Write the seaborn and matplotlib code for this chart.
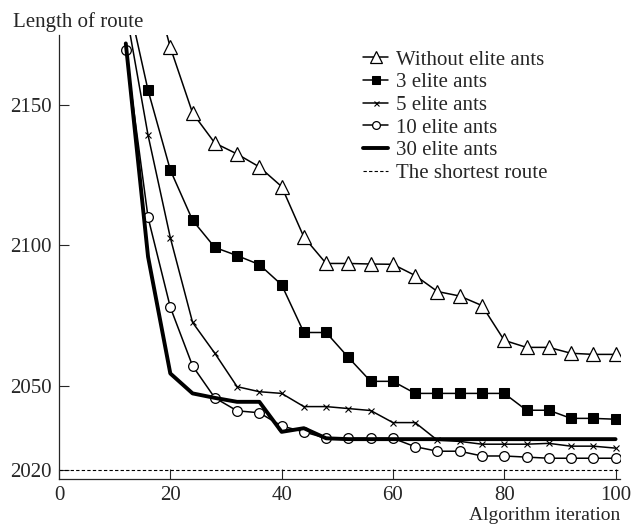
import matplotlib
matplotlib.use("Agg")
import matplotlib.pyplot as plt
import seaborn as sns

# --- Data (route length every 4 iterations) ---
iterations = [12, 16, 20, 24, 28, 32, 36, 40, 44, 48, 52, 56, 60,
              64, 68, 72, 76, 80, 84, 88, 92, 96, 100]

without_elite = [2230, 2200, 2170.6, 2147.2, 2136.5, 2132.6, 2128, 2121, 2103,
                 2093.6, 2093.6, 2093.4, 2093.3, 2089.3, 2083.6, 2082, 2078.6,
                 2066.2, 2063.7, 2063.7, 2061.6, 2061.2, 2061.2]
elite_3 = [2191, 2155.3, 2126.9, 2109, 2099.3, 2096.4, 2093.2, 2086, 2069,
           2069, 2060.1, 2051.6, 2051.6, 2047.3, 2047.3, 2047.3, 2047.3,
           2047.3, 2041.3, 2041.3, 2038.4, 2038.4, 2038.1]
elite_5 = [2184, 2139.3, 2102.8, 2072.6, 2061.6, 2049.7, 2047.9, 2047.3, 2042.6,
           2042.6, 2041.9, 2041.2, 2036.9, 2036.9, 2030.6, 2030.2, 2029.2,
           2029.2, 2029.2, 2029.5, 2028.5, 2028.5, 2027.8]
elite_10 = [2169.6, 2110, 2078, 2057.1, 2045.7, 2041.1, 2040.4, 2035.7, 2033.6,
            2031.3, 2031.3, 2031.3, 2031.3, 2028.3, 2026.7, 2026.7, 2025,
            2025, 2024.6, 2024.2, 2024.2, 2024.2, 2024.2]
elite_30 = [2172, 2096, 2054.4, 2047.3, 2045.7, 2044.3, 2044.3, 2033.6, 2034.9,
            2031.3, 2031, 2031, 2031, 2031, 2031, 2031, 2031,
            2031, 2031, 2031, 2031, 2031, 2031]

shortest_x = [0, 100.8]
shortest_route = [2020, 2020]

x_ticks = [0, 20, 40, 60, 80, 100]
y_ticks = [2020, 2050, 2100, 2150]

# --- Style ---
sns.set_style("ticks")
plt.rcParams["font.family"] = ["Liberation Serif", "DejaVu Serif"]
plt.rcParams["font.size"] = 15

fig = plt.figure(figsize=(6.33, 5.25), dpi=100)
ax = fig.add_axes([59 / 633, 1 - 479 / 525, 561 / 633, 444 / 525])

sns.lineplot(x=iterations, y=without_elite, ax=ax, color="black", lw=1.1,
             marker="^", markersize=10, markerfacecolor="white",
             markeredgecolor="black", markeredgewidth=0.9,
             label="Without elite ants")
sns.lineplot(x=iterations, y=elite_3, ax=ax, color="black", lw=1.1,
             marker="s", markersize=7, markerfacecolor="black",
             markeredgecolor="black", label="3 elite ants")
sns.lineplot(x=iterations, y=elite_5, ax=ax, color="black", lw=1.1,
             marker="x", markersize=4.5, markeredgewidth=0.8,
             markeredgecolor="black", label="5 elite ants")
sns.lineplot(x=iterations, y=elite_10, ax=ax, color="black", lw=1.1,
             marker="o", markersize=7, markerfacecolor="white",
             markeredgecolor="black", markeredgewidth=0.9,
             label="10 elite ants")
sns.lineplot(x=iterations, y=elite_30, ax=ax, color="black", lw=2.8,
             label="30 elite ants")
sns.lineplot(x=shortest_x, y=shortest_route, ax=ax, color="black", lw=0.8,
             dashes=False, label="The shortest route")
ax.lines[-1].set_linestyle((0, (3, 2)))

ax.set_xlim(0, 100.8)
ax.set_ylim(2016.8, 2175)
ax.set_xticks(x_ticks)
ax.set_yticks(y_ticks)
ax.tick_params(direction="in", length=7, width=0.8, labelsize=15, pad=5)
for s in ["top", "right"]:
    ax.spines[s].set_visible(False)
for s in ["left", "bottom"]:
    ax.spines[s].set_linewidth(0.9)
ax.set_xlabel("")
ax.set_ylabel("")

fig.text(13 / 633, 1 - 22 / 525, "Length of route", fontsize=15,
         ha="left", va="center")
fig.text(620 / 633, 1 - 515 / 525, "Algorithm iteration", fontsize=14,
         ha="right", va="center")

leg = ax.legend(loc="upper left", bbox_to_anchor=(363 / 633, 1 - 50 / 525),
                bbox_transform=fig.transFigure, frameon=False, fontsize=15,
                handlelength=1.2, handletextpad=0.4, labelspacing=0.15,
                borderpad=0, borderaxespad=0, markerscale=0.8)

fig.savefig("out.png", dpi=100)
